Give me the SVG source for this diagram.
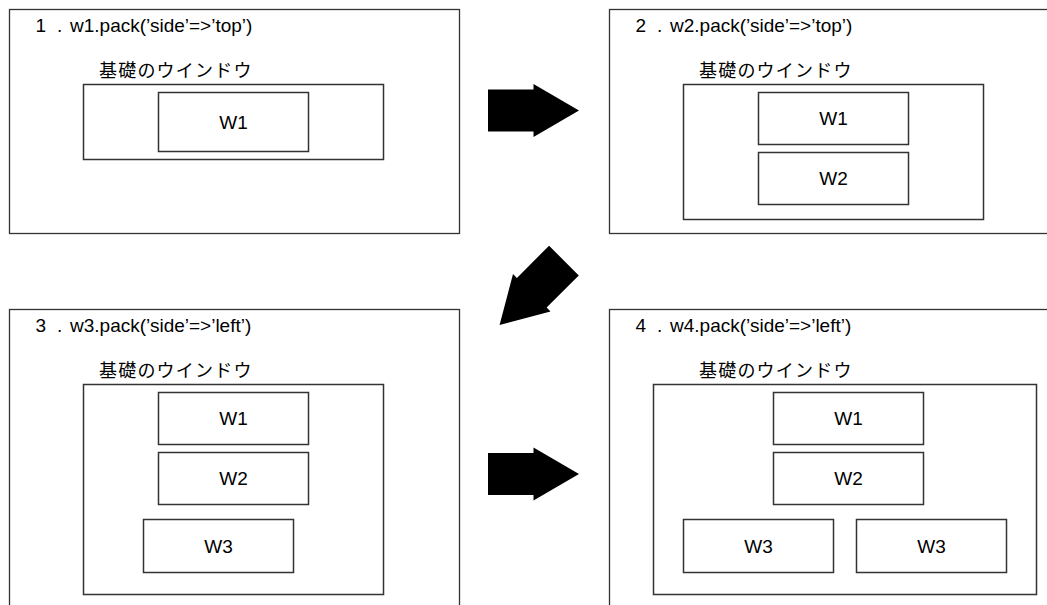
<svg xmlns="http://www.w3.org/2000/svg" width="1047" height="605" viewBox="0 0 1047 605">
<style>
.frame{fill:#fff;stroke:#333;stroke-width:1.3}
.base{fill:#fff;stroke:#333;stroke-width:1.5}
.win{fill:#fff;stroke:#333;stroke-width:1.5}
.t{font-family:"Liberation Sans","Noto Sans CJK JP",Arial,sans-serif;font-size:19px;fill:#000}
.lbl{text-anchor:middle}
.jp{font-family:"Noto Sans CJK JP",sans-serif;font-size:18px;letter-spacing:1.2px;fill:#000}
.arrow{fill:#000}
</style>
<defs>
<path id="arr" d="M-45.5,-21 H0 V-26.5 L45.5,0 L0,26.5 V21 H-45.5 Z"/>
</defs>
<rect width="1047" height="605" fill="#fff"/>

<g id="panel1">
<rect class="frame" x="9.5" y="9.5" width="450" height="224"/>
<text class="t" x="35.5" y="32">1 <tspan x="57">. </tspan><tspan x="70">w1.pack(’side’=&gt;’top’)</tspan></text>
<text class="jp" x="99" y="77">基礎のウインドウ</text>
<rect class="base" x="83.5" y="84.5" width="300" height="75"/>
<g id="p1-w1"><rect class="win" x="158.5" y="92.5" width="150" height="59"/><text class="t lbl" x="233.5" y="129">W1</text></g>
</g>

<g id="panel2">
<rect class="frame" x="609.5" y="9.5" width="450" height="224"/>
<text class="t" x="635.5" y="32">2 <tspan x="657">. </tspan><tspan x="670">w2.pack(’side’=&gt;’top’)</tspan></text>
<text class="jp" x="699" y="77">基礎のウインドウ</text>
<rect class="base" x="683.5" y="84.5" width="300" height="135"/>
<g id="p2-w1"><rect class="win" x="758.5" y="92.5" width="150" height="52"/><text class="t lbl" x="833.5" y="125">W1</text></g>
<g id="p2-w2"><rect class="win" x="758.5" y="152.5" width="150" height="52"/><text class="t lbl" x="833.5" y="185">W2</text></g>
</g>

<g id="panel3">
<rect class="frame" x="9.5" y="309.5" width="450" height="310"/>
<text class="t" x="35.5" y="332">3 <tspan x="57">. </tspan><tspan x="70">w3.pack(’side’=&gt;’left’)</tspan></text>
<text class="jp" x="99" y="377">基礎のウインドウ</text>
<rect class="base" x="83.5" y="384.5" width="300" height="210"/>
<g id="p3-w1"><rect class="win" x="158.5" y="392.5" width="150" height="52"/><text class="t lbl" x="233.5" y="425">W1</text></g>
<g id="p3-w2"><rect class="win" x="158.5" y="452.5" width="150" height="52"/><text class="t lbl" x="233.5" y="485">W2</text></g>
<g id="p3-w3"><rect class="win" x="143.5" y="519.5" width="150" height="53"/><text class="t lbl" x="218.5" y="553">W3</text></g>
</g>

<g id="panel4">
<rect class="frame" x="609.5" y="309.5" width="450" height="310"/>
<text class="t" x="635.5" y="332">4 <tspan x="657">. </tspan><tspan x="670">w4.pack(’side’=&gt;’left’)</tspan></text>
<text class="jp" x="699" y="377">基礎のウインドウ</text>
<rect class="base" x="653.5" y="384.5" width="383" height="210"/>
<g id="p4-w1"><rect class="win" x="773.5" y="392.5" width="150" height="52"/><text class="t lbl" x="848.5" y="425">W1</text></g>
<g id="p4-w2"><rect class="win" x="773.5" y="452.5" width="150" height="52"/><text class="t lbl" x="848.5" y="485">W2</text></g>
<g id="p4-w3a"><rect class="win" x="683.5" y="519.5" width="150" height="53"/><text class="t lbl" x="758.5" y="553">W3</text></g>
<g id="p4-w3b"><rect class="win" x="856.5" y="519.5" width="150" height="53"/><text class="t lbl" x="931.5" y="553">W3</text></g>
</g>

<g id="connectors">
<use href="#arr" class="arrow" transform="translate(533.5,110.5)"/>
<use href="#arr" class="arrow" transform="translate(531.75,292.75) rotate(135)"/>
<use href="#arr" class="arrow" transform="translate(533.5,474)"/>
</g>
</svg>
